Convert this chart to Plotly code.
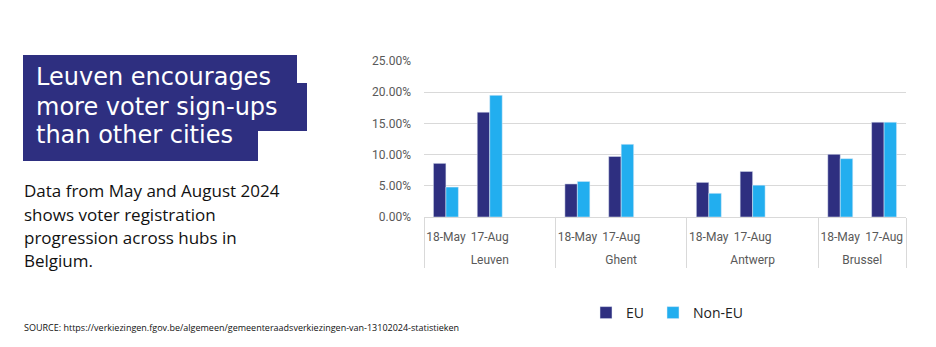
import plotly.graph_objects as go

cities = ["Leuven", "Ghent", "Antwerp", "Brussel"]
dates = ["18-May", "17-Aug"]
eu = [[8.6, 16.8], [5.3, 9.7], [5.55, 7.3], [10.05, 15.2]]
non_eu = [[4.8, 19.5], [5.7, 11.65], [3.8, 5.1], [9.35, 15.2]]

title_lines = ["Leuven encourages", "more voter sign-ups", "than other cities"]
subtitle_lines = ["Data from May and August 2024", "shows voter registration",
                  "progression across hubs in", "Belgium."]
source = "SOURCE: https://verkiezingen.fgov.be/algemeen/gemeenteraadsverkiezingen-van-13102024-statistieken"

NAVY = "#2E2F80"
CYAN = "#22AEEF"

# outer (city) labels are pushed one line down with a leading line break
outer, inner, y_eu, y_non = [], [], [], []
for i, c in enumerate(cities):
    lab = "<br>" + c
    for j, d in enumerate(dates):
        outer.append(lab); inner.append(d)
        y_eu.append(eu[i][j] / 100); y_non.append(non_eu[i][j] / 100)
    if i < len(cities) - 1:
        outer.append(lab); inner.append(" " * (i + 1))
        y_eu.append(None); y_non.append(None)

W, H = 936, 347
L, R, T, B = 424, 906, 61, 217

def px(x):
    return (x - L) / (R - L)

def py(y):
    return (B - y) / (B - T)

fig = go.Figure()
fig.add_trace(go.Bar(x=[outer, inner], y=y_eu, name="EU", marker_color=NAVY, legend="legend"))
fig.add_trace(go.Bar(x=[outer, inner], y=y_non, name="Non-EU", marker_color=CYAN, legend="legend2"))

leg_common = dict(orientation="h", yanchor="middle", xanchor="left",
                  font=dict(family="Open Sans", size=14, color="#222222"),
                  itemwidth=30, bgcolor="rgba(0,0,0,0)")
fig.update_layout(
    width=W, height=H,
    margin=dict(l=L, r=W - R, t=T, b=H - B, pad=0),
    paper_bgcolor="white", plot_bgcolor="white",
    barmode="group", bargap=0.43, bargroupgap=0,
    font=dict(family="Roboto", size=12, color="#595959"),
    showlegend=True,
    legend=dict(x=px(586), y=py(313), **leg_common),
    legend2=dict(x=px(653), y=py(313), **leg_common),
)
fig.update_yaxes(range=[0, 0.25], dtick=0.05, tickformat=".2%", showgrid=True,
                 gridcolor="#D9D9D9", gridwidth=1, zeroline=False, showline=False,
                 ticks="", ticklabelstandoff=12)
fig.update_xaxes(type="multicategory", showline=True, linecolor="#D9D9D9", linewidth=1,
                 showdividers=True, dividercolor="#D9D9D9", dividerwidth=1, tickangle=0,
                 ticklabelstandoff=9,
                 tickfont=dict(family="Roboto", size=12, color="#595959"))

boxes = [(23, 55, 297, 84), (23, 83, 307, 131), (23, 130, 258, 161)]
for x0, y0, x1, y1 in boxes:
    fig.add_shape(type="rect", xref="paper", yref="paper",
                  x0=px(x0), x1=px(x1), y0=py(y1), y1=py(y0),
                  fillcolor=NAVY, line_width=0, layer="below")

title_y = [77, 107, 135]
for t, yy in zip(title_lines, title_y):
    fig.add_annotation(text=t, xref="paper", yref="paper", x=px(34), y=py(yy),
                       xanchor="left", yanchor="middle", showarrow=False,
                       font=dict(family="DejaVu Sans", size=24, color="white"))

sub_y = [190, 214, 237, 260]
for t, yy in zip(subtitle_lines, sub_y):
    fig.add_annotation(text=t, xref="paper", yref="paper", x=px(22), y=py(yy),
                       xanchor="left", yanchor="middle", showarrow=False,
                       font=dict(family="Open Sans", size=17, color="#111111"))

fig.add_annotation(text=source, xref="paper", yref="paper", x=px(22), y=py(327),
                   xanchor="left", yanchor="middle", showarrow=False,
                   font=dict(family="Open Sans", size=9, color="#111111"))

fig.write_html("out.html")
